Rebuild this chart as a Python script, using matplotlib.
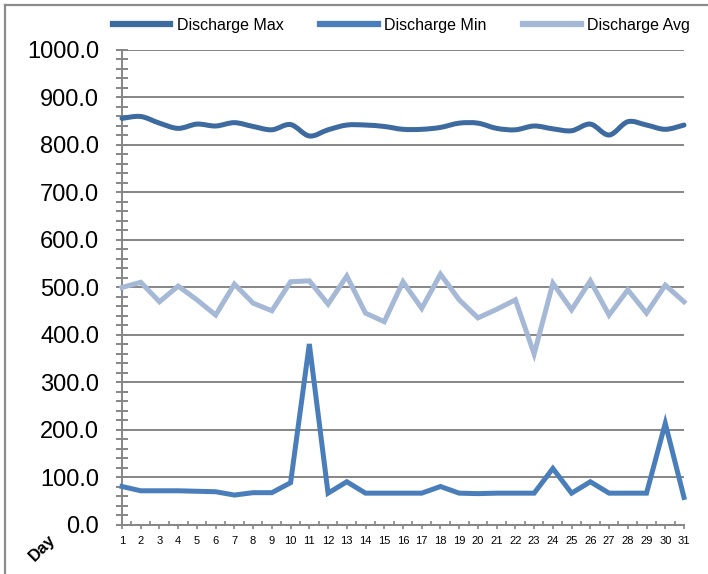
import numpy as np
import matplotlib
matplotlib.use('Agg')
import matplotlib.pyplot as plt
from matplotlib.path import Path
from matplotlib.patches import PathPatch
from matplotlib.lines import Line2D
from matplotlib.ticker import MultipleLocator

plt.rcParams['font.family'] = ['Liberation Sans', 'DejaVu Sans']

days = list(range(1, 32))
discharge_max = [856, 860, 846, 835, 844, 840, 847, 839, 832, 843, 819, 832, 842, 842, 839, 833,
                 833, 837, 846, 846, 835, 832, 840, 834, 830, 844, 821, 849, 842, 833, 842]
discharge_min = [81, 72, 72, 72, 71, 70, 63, 68, 68, 89, 381, 67, 91, 67, 67, 67,
                 67, 81, 67, 66, 67, 67, 67, 119, 67, 91, 67, 67, 67, 214, 58]
discharge_avg = [500, 511, 470, 503, 474, 442, 507, 467, 451, 512, 514, 465, 524, 446, 428, 512,
                 456, 528, 474, 436, 454, 474, 360, 509, 453, 514, 442, 495, 446, 505, 470]

c_max = '#3d6a9f'
c_min = '#4a7ebb'
c_avg = '#a5b8d6'
grey = '#868686'


def smooth_path(x, y):
    # Excel style smoothed line: Catmull-Rom segments as cubic beziers
    x = np.asarray(x, float)
    y = np.asarray(y, float)
    verts = [(x[0], y[0])]
    codes = [Path.MOVETO]
    n = len(x)
    for i in range(n - 1):
        p0 = i - 1 if i > 0 else i
        p3 = i + 2 if i + 2 < n else i + 1
        c1 = (x[i] + (x[i + 1] - x[p0]) / 6, y[i] + (y[i + 1] - y[p0]) / 6)
        c2 = (x[i + 1] - (x[p3] - x[i]) / 6, y[i + 1] - (y[p3] - y[i]) / 6)
        verts += [c1, c2, (x[i + 1], y[i + 1])]
        codes += [Path.CURVE4] * 3
    return Path(verts, codes)


fig = plt.figure(figsize=(7.08, 5.74), dpi=100)
ax = fig.add_axes([0.1723, 0.0854, 0.7938, 0.8275])

ax.add_patch(PathPatch(smooth_path(days, discharge_max), facecolor='none', edgecolor=c_max,
                       lw=3.6, capstyle='round', joinstyle='round', zorder=3, clip_on=False))
ax.plot(days, discharge_min, color=c_min, lw=3.6, solid_joinstyle='miter', zorder=3, clip_on=False)
ax.plot(days, discharge_avg, color=c_avg, lw=3.6, solid_joinstyle='miter', zorder=3, clip_on=False)

ax.set_xlim(1, 31)
ax.set_ylim(0, 1000)
ax.yaxis.set_major_locator(MultipleLocator(100))
ax.yaxis.set_minor_locator(MultipleLocator(20))
ax.set_yticklabels([f'{v:.1f}' for v in ax.get_yticks()])
ax.set_xticks(days)
ax.set_xticks(np.arange(1.5, 31, 1), minor=True)

ax.grid(axis='y', color=grey, lw=1.4)
ax.set_axisbelow(True)
for s in ['top', 'right']:
    ax.spines[s].set_visible(False)
for s in ['left', 'bottom']:
    ax.spines[s].set_color(grey)
    ax.spines[s].set_linewidth(1.4)

ax.tick_params(axis='y', which='major', direction='inout', length=9, width=1.4, color=grey,
               labelsize=17, pad=12)
ax.tick_params(axis='y', which='minor', direction='inout', length=8, width=1.4, color=grey)
ax.tick_params(axis='x', which='major', direction='out', length=3, width=1.2, color=grey,
               labelsize=8, pad=5)
ax.tick_params(axis='x', which='minor', direction='in', length=3, width=1.2, color=grey)

fig.text(0.06, 0.046, 'Day', rotation=45, fontsize=12, fontweight='bold',
         ha='center', va='center')

handles = [Line2D([], [], color=c_max, lw=4.5),
           Line2D([], [], color=c_min, lw=4.5),
           Line2D([], [], color=c_avg, lw=4.5)]
fig.legend(handles, ['Discharge Max', 'Discharge Min', 'Discharge Avg'],
           loc='center', bbox_to_anchor=(0.567, 0.956), ncol=3, frameon=False,
           fontsize=11.5, handlelength=3.6, handletextpad=0.4, columnspacing=2.3)

# outer chart border
fig.add_artist(Line2D([5 / 708, 1], [1 - 5 / 574, 1 - 5 / 574], color='#8c8c8c', lw=1.6,
                      transform=fig.transFigure))
fig.add_artist(Line2D([5 / 708, 5 / 708], [0, 1 - 5 / 574], color='#8c8c8c', lw=1.6,
                      transform=fig.transFigure))

fig.savefig('out.png', dpi=100)
